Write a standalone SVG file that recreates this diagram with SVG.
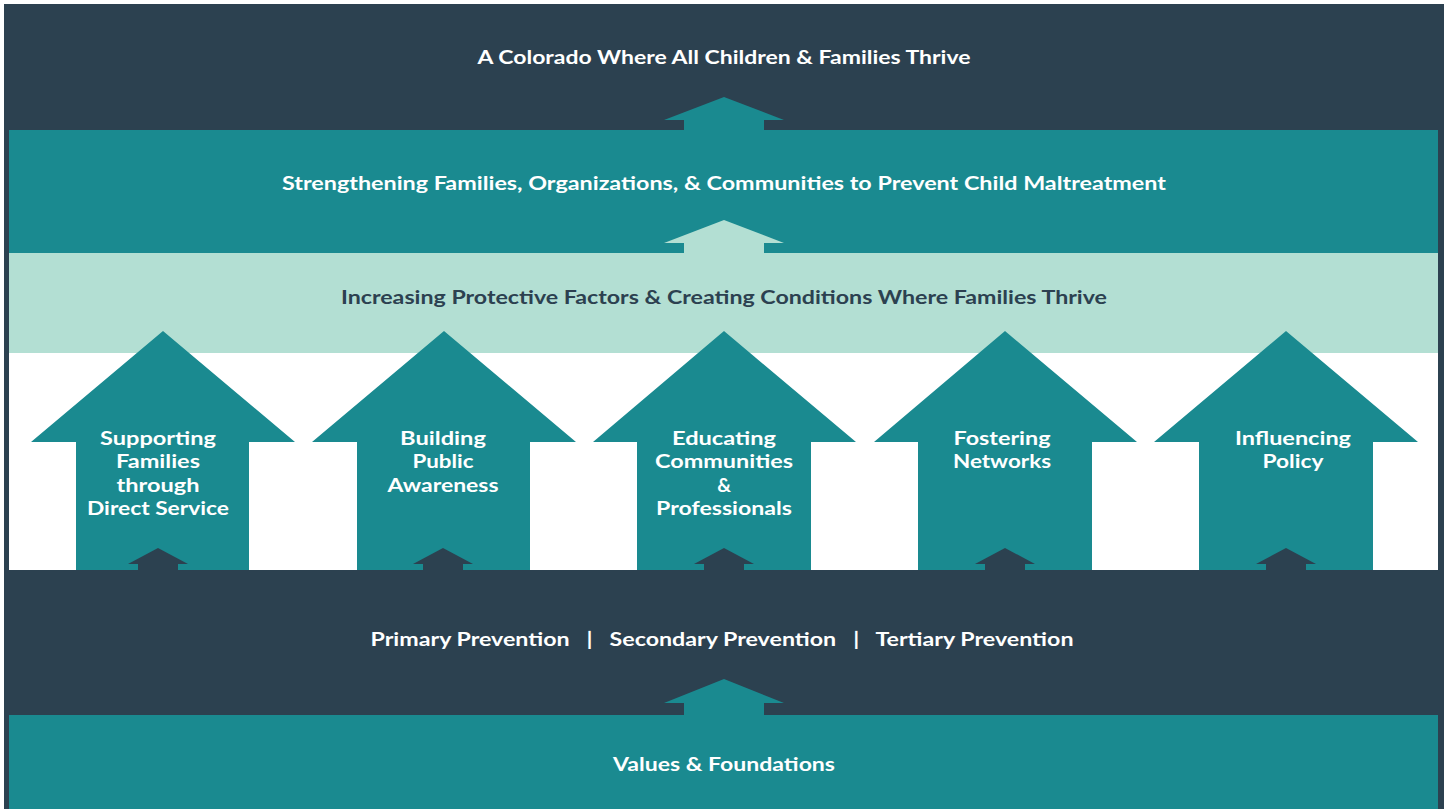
<svg xmlns="http://www.w3.org/2000/svg" width="1449" height="809" viewBox="0 0 1449 809">
<style>
.t{font-family:Lato,"Liberation Sans",sans-serif;font-weight:700;font-size:19px;text-anchor:middle;fill:#FFFFFF}
.d{fill:#2C4150}
.tl{fill:#1A8A90}
.lt{fill:#B3DFD3}
</style>
<rect x="0" y="0" width="1449" height="809" fill="#FFFFFF"/>
<rect x="4" y="4" width="1440" height="805" class="d"/>
<g id="goal">
<text class="t" x="724" y="64" textLength="493" lengthAdjust="spacingAndGlyphs">A Colorado Where All Children &amp; Families Thrive</text>
</g>
<g id="strengthening">
<rect x="9" y="130" width="1429" height="124" class="tl"/>
<text class="t" x="724" y="190" textLength="884" lengthAdjust="spacingAndGlyphs">Strengthening Families, Organizations, &amp; Communities to Prevent Child Maltreatment</text>
</g>
<g id="protective">
<rect x="9" y="253" width="1429" height="101" class="lt"/>
<text class="t" x="724" y="304" style="fill:#2C4150" textLength="766" lengthAdjust="spacingAndGlyphs">Increasing Protective Factors &amp; Creating Conditions Where Families Thrive</text>
</g>
<rect x="9" y="353" width="1429" height="217" fill="#FFFFFF"/>
<g id="connectors">
<polygon class="tl" points="724,97 784,120 764,120 764,131 684,131 684,120 664,120"/>
<polygon class="lt" points="724,220 784,243 764,243 764,254 684,254 684,243 664,243"/>
<polygon class="tl" points="724,679 784,703 764,703 764,716 684,716 684,703 664,703"/>
</g>
<g id="arrow1">
<polygon class="tl" points="163,331 295,442 249,442 249,570 76,570 76,442 31,442"/>
<polygon class="d" points="158,548 188,564 178,564 178,571 138,571 138,564 128,564"/>
<text class="t" x="158" y="445" textLength="116" lengthAdjust="spacingAndGlyphs">Supporting</text>
<text class="t" x="158" y="468" textLength="84" lengthAdjust="spacingAndGlyphs">Families</text>
<text class="t" x="158" y="492" textLength="83" lengthAdjust="spacingAndGlyphs">through</text>
<text class="t" x="158" y="515" textLength="142" lengthAdjust="spacingAndGlyphs">Direct Service</text>
</g>
<g id="arrow2">
<polygon class="tl" points="444,331 576,442 530,442 530,570 357,570 357,442 312,442"/>
<polygon class="d" points="443,548 473,564 463,564 463,571 423,571 423,564 413,564"/>
<text class="t" x="443" y="445" textLength="86" lengthAdjust="spacingAndGlyphs">Building</text>
<text class="t" x="443" y="468" textLength="61" lengthAdjust="spacingAndGlyphs">Public</text>
<text class="t" x="443" y="492" textLength="111" lengthAdjust="spacingAndGlyphs">Awareness</text>
</g>
<g id="arrow3">
<polygon class="tl" points="724,331 856,442 811,442 811,570 637,570 637,442 593,442"/>
<polygon class="d" points="724,548 754,564 744,564 744,571 704,571 704,564 694,564"/>
<text class="t" x="724" y="445" textLength="104" lengthAdjust="spacingAndGlyphs">Educating</text>
<text class="t" x="724" y="468" textLength="138" lengthAdjust="spacingAndGlyphs">Communities</text>
<text class="t" x="724" y="492">&amp;</text>
<text class="t" x="724" y="515" textLength="136" lengthAdjust="spacingAndGlyphs">Professionals</text>
</g>
<g id="arrow4">
<polygon class="tl" points="1005,331 1137,442 1092,442 1092,570 918,570 918,442 874,442"/>
<polygon class="d" points="1005,548 1035,564 1025,564 1025,571 985,571 985,564 975,564"/>
<text class="t" x="1002" y="445" textLength="97" lengthAdjust="spacingAndGlyphs">Fostering</text>
<text class="t" x="1002" y="468" textLength="98" lengthAdjust="spacingAndGlyphs">Networks</text>
</g>
<g id="arrow5">
<polygon class="tl" points="1286,331 1418,442 1373,442 1373,570 1199,570 1199,442 1154,442"/>
<polygon class="d" points="1286,548 1316,564 1306,564 1306,571 1266,571 1266,564 1256,564"/>
<text class="t" x="1293" y="445" textLength="116" lengthAdjust="spacingAndGlyphs">Influencing</text>
<text class="t" x="1293" y="468" textLength="61" lengthAdjust="spacingAndGlyphs">Policy</text>
</g>
<g id="prevention">
<text class="t" x="722" y="646" textLength="703" lengthAdjust="spacingAndGlyphs" xml:space="preserve">Primary Prevention   |   Secondary Prevention   |   Tertiary Prevention</text>
</g>
<g id="values">
<rect x="9" y="715" width="1429" height="94" class="tl"/>
<text class="t" x="724" y="771" textLength="222" lengthAdjust="spacingAndGlyphs">Values &amp; Foundations</text>
</g>
</svg>
